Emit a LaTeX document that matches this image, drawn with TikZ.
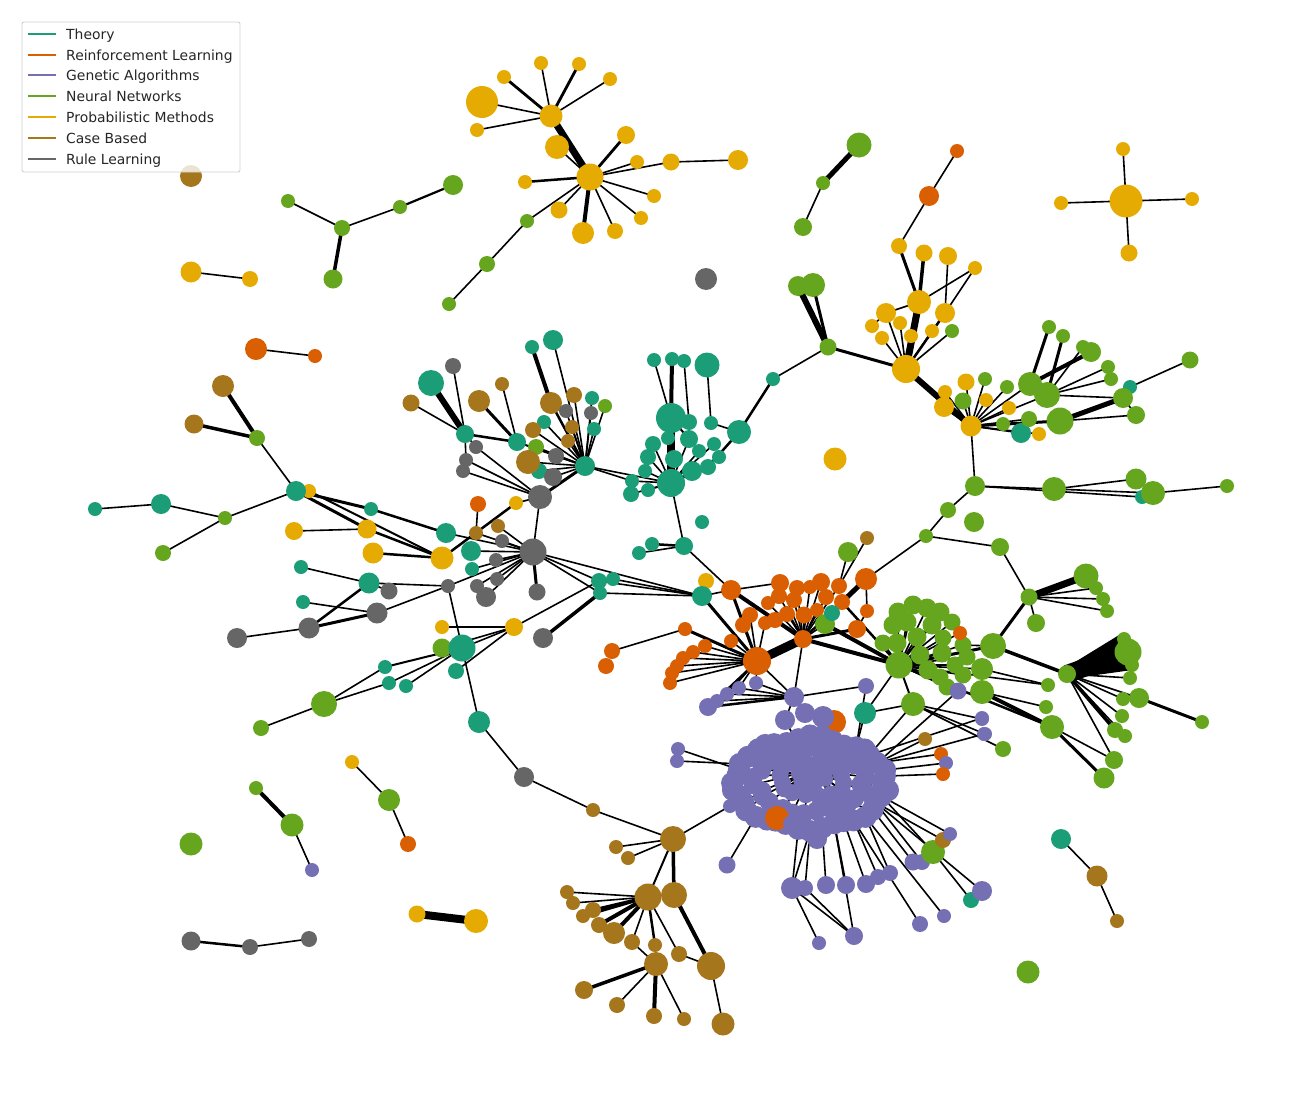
\documentclass[tikz,border=0pt]{standalone}
\usepackage{fontspec}
\setmainfont{DejaVu Sans}
\definecolor{cT}{HTML}{1B9E77}
\definecolor{cR}{HTML}{D95F02}
\definecolor{cG}{HTML}{7570B3}
\definecolor{cN}{HTML}{66A61E}
\definecolor{cP}{HTML}{E6AB02}
\definecolor{cC}{HTML}{A6761D}
\definecolor{cL}{HTML}{666666}
\pgfdeclarelayer{bg}
\pgfsetlayers{bg,main}
\tikzset{nd/.style={circle,inner sep=0pt,draw=none}}
\begin{document}
\begin{tikzpicture}[x=1pt,y=-1pt]
\useasboundingbox (0,0) rectangle (1300,1100);
\begin{pgfonlayer}{bg}
\fill[white] (0,0) rectangle (1300,1100);
\end{pgfonlayer}
% ---------- nodes ----------
\foreach \n/\x/\y/\c/\s in {
ya/551/116/cP/23, yb/482/102/cP/32, y1/504/77/cP/14, y2/541/63/cP/14, y3/579/64/cP/14, y4/610/79/cP/14, y5/477/130/cP/14, y6/557/147/cP/24, yh/590/177/cP/27, y7/626/135/cP/18, y8/637/162/cP/14, y9/671/162/cP/17, y10/738/160/cP/20, y11/525/182/cP/14, y12/654/196/cP/14, y13/641/218/cP/14, y14/615/231/cP/16, y15/583/233/cP/22, y16/559/210/cP/17, g1/527/221/cN/14, g2/487/264/cN/16, g3/449/304/cN/14,
g4/288/201/cN/14, g5/342/228/cN/16, g6/400/207/cN/14, g7/453/185/cN/20, g8/333/279/cN/19, c1/191/176/cC/22, y17/191/272/cP/21, y18/250/279/cP/16, r1/256/349/cR/22, r2/315/356/cR/14, c2/223/386/cC/22, c3/194/424/cC/19, g9/257/438/cN/16, y19/309/491/cP/14, t1/296/491/cT/20, t2/95/509/cT/14, t3/161/504/cT/20, g10/225/518/cN/14, g11/163/553/cN/16, l1/706/279/cL/22, y20/835/459/cP/23, g12/191/844/cN/23, g13/1028/972/cN/23, t4/1061/839/cT/20, c4/1097/876/cC/21, c5/1117/921/cC/14, g14/859/145/cN/25, g15/823/183/cN/14, g16/803/227/cN/18, y21/1126/201/cP/33, y22/1123/149/cP/14, y23/1061/203/cP/14, y24/1192/199/cP/14, y25/1129/253/cP/17, g17/256/788/cN/14, g18/292/825/cN/23, v1/312/870/cG/14, y26/352/762/cP/14, g19/389/800/cN/22, r3/408/844/cR/16, l2/191/941/cL/19, l3/250/947/cL/16, l4/309/939/cL/16, y27/417/914/cP/17, y28/476/921/cP/24}
{\node[nd,fill=\c,minimum size=\s pt] (\n) at (\x,\y) {};}
\foreach \n/\x/\y/\c/\s in {
r4/957/151/cR/14, r5/929/196/cR/20, y30/899/246/cP/16, y31/924/253/cP/17, y32/948/256/cP/18, y33/975/268/cP/14, y34/919/302/cP/24, y35/886/313/cP/20, y36/945/313/cP/20, y37/872/326/cP/14, y38/900/323/cP/14, y39/882/338/cP/14, y40/911/336/cP/14, y41/932/331/cP/14, g20/952/331/cN/14, yh2/906/369/cP/28, g22/798/286/cN/20, g23/813/285/cN/24, g21/828/347/cN/17, t5/773/379/cT/14,
y42/945/392/cP/14, y43/944/407/cP/20, y44/966/382/cP/17, g24/963/401/cN/17, g25/985/379/cN/14, y45/986/400/cP/14, y46/1009/408/cP/14, g26/1007/387/cN/14, g27/1003/424/cN/14, t6/1021/433/cT/20, y47/1039/434/cP/14, g28/1030/384/cN/24, g29/1047/395/cN/26, g30/1029/419/cN/16, g31/1060/421/cN/27, g32/1049/327/cN/14, g33/1063/336/cN/14, g34/1083/347/cN/14, g35/1091/352/cN/20, g36/1108/367/cN/14, g37/1111/379/cN/14, t7/1130/387/cT/14, g38/1123/398/cN/20, g39/1136/415/cN/18, g40/1190/360/cN/17, yc/971/426/cP/21,
g41/975/486/cN/20, g42/1054/489/cN/24, t8/1142/497/cT/14, g44/1136/479/cN/21, g45/1153/493/cN/24, g46/1227/486/cN/14, g47/948/510/cN/16, g48/974/522/cN/20, g49/926/536/cN/14, g50/1000/547/cN/18}
{\node[nd,fill=\c,minimum size=\s pt] (\n) at (\x,\y) {};}
\foreach \n/\x/\y/\c/\s in {
g51/1029/597/cN/17, g52/1086/576/cN/25, g53/1096/588/cN/14, g54/1103/599/cN/14, g55/1107/611/cN/14, g56/1036/623/cN/18, g57/993/646/cN/26, g59/1124/639/cN/14, g60/1128/652/cN/27, g61/1132/665/cN/14, g62/1130/678/cN/14, g63/1123/699/cN/14, g64/1139/698/cN/20, g65/1122/716/cN/14, g66/1115/730/cN/16, g67/1125/736/cN/14, g68/1202/722/cN/14, g69/1114/760/cN/18, g70/1104/778/cN/21, g71/1048/685/cN/14, g72/1046/707/cN/14, g73/1052/727/cN/24, g74/1003/749/cN/16, g58/1067/674/cN/18,
gb1/898/612/cN/19, gb2/913/605/cN/19, gb3/927/608/cN/19, gb4/940/612/cN/19, gb5/952/622/cN/17, gb6/893/625/cN/19, gb7/907/622/cN/19, gb8/932/625/cN/19, gb9/897/643/cN/19, gb10/917/637/cN/19, gb11/943/638/cN/17, gb12/963/645/cN/17, gb13/942/653/cN/19, gb14/920/655/cN/19, gb15/883/643/cN/17, gb16/967/657/cN/17, gb17/928/670/cN/19, gb18/955/665/cN/17, gb19/940/677/cN/17, gb20/963/675/cN/17, gb21/947/687/cN/17,
r6/960/633/cR/14, gh/899/665/cN/27, g76/982/669/cN/22, g77/982/692/cN/24, v4/958/691/cG/17, g75/913/704/cN/24, v2/982/719/cG/14, v3/985/734/cG/14, c6/925/739/cC/14, r7/941/754/cR/14, v5/946/763/cG/14, r8/943/774/cR/14}
{\node[nd,fill=\c,minimum size=\s pt] (\n) at (\x,\y) {};}
\foreach \n/\x/\y/\c/\s in {
gn1/848/552/cN/20, cn1/867/538/cC/14,
ro1/731/590/cR/20, ro2/780/583/cR/18, ro3/797/588/cR/16, ro4/810/587/cR/14, ro5/821/582/cR/18, ro6/839/586/cR/16, ro7/779/596/cR/16, ro8/794/600/cR/16, ro9/768/603/cR/14, ro10/826/597/cR/16, ro11/842/602/cR/16, ro12/817/610/cR/14, ro13/804/615/cR/17, ro14/787/614/cR/16, ro15/750/615/cR/16, ro16/775/620/cR/16, ro17/765/623/cR/14, ro18/743/625/cR/16, gq/825/624/cN/20, tq/832/613/cT/16, ro19/867/611/cR/14, ro20/857/629/cR/18, ro21/685/629/cR/14, ro22/731/641/cR/14, ro23/705/646/cR/14, ro24/693/652/cR/14, ro25/683/658/cR/14, ro26/677/666/cR/14, ro27/672/673/cR/14, ro28/670/683/cR/14, ro29/612/651/cR/16, ro30/606/666/cR/16, rm/803/639/cR/18, rh/757/661/cR/28, rbig/866/579/cR/22,
yp/706/581/cP/16, tp/702/596/cT/20, t9/684/546/cT/18, t10/652/544/cT/14, t11/639/553/cT/14, t12/702/522/cT/14,
pv1/756/683/cG/14, pv2/739/688/cG/14, pv3/727/694/cG/14, pv4/717/701/cG/14, pv5/708/707/cG/18, pvt/794/697/cG/20, pv6/866/686/cG/16, tq2/865/713/cT/22}
{\node[nd,fill=\c,minimum size=\s pt] (\n) at (\x,\y) {};}
\foreach \n/\x/\y/\c/\s in {
ta1/654/360/cT/14, ta2/672/359/cT/14, ta3/684/361/cT/14, ta4/707/365/cT/25, ta5/689/422/cT/16, ta6/711/423/cT/14, ta7/739/432/cT/24, tb/671/418/cT/30, ta8/653/444/cT/16, ta9/668/438/cT/14, ta10/689/439/cT/18, ta11/714/444/cT/14, ta12/648/457/cT/16, ta13/674/459/cT/18, ta14/699/451/cT/14, ta15/719/457/cT/14, ta16/645/471/cT/14, ta17/692/471/cT/20, ta18/708/467/cT/16, ta19/632/481/cT/14, ta20/648/490/cT/14, tc/671/483/cT/28, ta21/631/494/cT/16,
lt1/532/347/cT/14, lt2/553/340/cT/20, ll1/453/366/cL/16, lt3/431/383/cT/26, lc1/502/384/cC/14, lc2/411/403/cC/17, lc3/479/401/cC/22, lc4/551/403/cC/22, lc5/574/395/cC/16, lt4/592/398/cT/14, lg1/605/406/cN/14, ll2/566/411/cL/14, ll3/591/413/cL/14, lt5/465/434/cT/18, lt6/544/422/cT/14, lc6/572/427/cC/14, lt7/594/429/cT/14, lc7/533/430/cC/16, lc8/568/441/cC/14, lt8/517/442/cT/18, lg2/536/447/cN/16, ll4/476/447/cL/14, ll5/556/456/cL/16, lt9/539/471/cT/16, lc9/528/462/cC/24, ll6/466/460/cL/14, ll7/463/471/cL/14, ll8/553/477/cL/18, th/585/466/cT/20, lh/540/497/cL/24, lr1/478/504/cR/16, ly1/516/503/cP/14}
{\node[nd,fill=\c,minimum size=\s pt] (\n) at (\x,\y) {};}
\foreach \n/\x/\y/\c/\s in {
qt2/371/509/cT/14, qy1/294/531/cP/18, qy3/367/529/cP/19, qy4/373/553/cP/21, qt3/446/533/cT/20, qy2/442/558/cP/23, qc1/476/533/cC/14, qc2/498/526/cC/14, qt4/471/551/cT/20, ql2/502/541/cL/14, ql3/496/560/cL/14, qt5/472/569/cT/14, ql4/497/579/cL/14, ql5/448/586/cL/14, ql6/477/586/cL/14, ql7/486/597/cL/20, ql1/533/552/cL/27, ql8/537/592/cL/17, t13/599/581/cT/16, t14/613/579/cT/14, t15/600/593/cT/14, qt6/301/567/cT/14, qt7/369/583/cT/21, ql9/389/591/cL/17, qt8/303/602/cT/14, ql10/377/613/cL/21, ql11/309/628/cL/21, ql12/237/638/cL/20, qy5/442/627/cP/14, qy6/514/627/cP/18, ql13/543/638/cL/20, qg1/442/648/cN/19, qt9/462/648/cT/27, qt10/456/671/cT/16, qt11/385/667/cT/14, qt12/389/683/cT/14, qt13/406/686/cT/14, qg2/324/704/cN/26, qg3/261/728/cN/16, qt14/479/722/cT/22, ql14/524/777/cL/20,
cb1/593/810/cC/14, ch/673/839/cC/26, cv1/730/806/cG/14, cb2/616/847/cC/14, cb3/628/858/cC/14, cv2/727/865/cG/17, cb4/567/892/cC/14, cb5/573/903/cC/14, cb6/593/910/cC/16, cb7/583/916/cC/14, cb8/599/925/cC/16, cb9/614/933/cC/22, cb10/632/942/cC/16, cb11/655/945/cC/14, cb12/679/954/cC/16, cc1/648/897/cC/27, cc2/674/895/cC/26, cc3/656/964/cC/24, cc4/711/966/cC/28, cb13/584/990/cC/18, cb14/617/1005/cC/16, cb15/654/1016/cC/16, cb16/684/1019/cC/14, cb17/723/1024/cC/23,
pw1/678/749/cG/14, pw2/677/761/cG/14, pb1/792/888/cG/22, pb2/805/888/cG/16, pb3/826/885/cG/18, pb4/846/885/cG/18, pb5/866/884/cG/18, pb6/878/877/cG/16, pb7/890/873/cG/16, pb8/913/862/cG/17, pb9/922/862/cG/16, gbig/933/852/cN/24, cb18/943/840/cC/16, pb10/950/834/cG/14, tb2/971/900/cT/16, pb11/982/891/cG/20, pb12/944/916/cG/14, pb13/920/924/cG/16, pb14/854/936/cG/18, pb15/819/943/cG/14, pr1/982/718/cG/14, pr2/984/734/cG/14,
br/834/722/cR/24, bt1/785/720/cG/20, bt2/805/713/cG/20, bt3/823/717/cG/22}
{\node[nd,fill=\c,minimum size=\s pt] (\n) at (\x,\y) {};}
% purple blob
\foreach \i in {1,...,40}
{\node[nd,fill=cG,minimum size=22pt] (bo\i) at ({810+(76+3*sin(\i*97))*cos(\i*9)},{783+(45+3*cos(\i*71))*sin(\i*9)}) {};}
\node[nd,fill=cG,minimum size=20pt] (bb) at (817,839) {};
\foreach \i in {1,...,28}
{\node[nd,fill=cG,minimum size=19pt] (bi\i) at ({810+(55+4*sin(\i*113))*cos(\i*360/28+6)},{781+(31+3*sin(\i*57))*sin(\i*360/28+6)}) {};}
\foreach \i in {1,...,16}
{\node[nd,fill=cG,minimum size=17pt] (bc\i) at ({812+(33+3*sin(\i*89))*cos(\i*22.5+11)},{779+(18+2*cos(\i*43))*sin(\i*22.5+11)}) {};}
\foreach \i in {1,...,6}
{\node[nd,fill=cG,minimum size=16pt] (bd\i) at ({812+14*cos(\i*60+20)},{776+8*sin(\i*60+20)}) {};}
\node[nd,fill=cG,minimum size=24pt] (bh) at (812,770) {};
\node[nd,fill=cR,minimum size=24pt] (borg) at (777,818) {};
\node[nd,fill=cG,minimum size=18pt] (bo9b) at (792,824) {};
% ---------- edges ----------
\begin{pgfonlayer}{bg}
\foreach \a/\b/\w in {
ya/yb/1.6, ya/y1/2.8, ya/y2/1.6, ya/y3/2.8, ya/y4/1.6, ya/y5/1.6, ya/yh/7, y6/yh/1.6, yh/y7/2.8, yh/y8/1.6, yh/y9/1.6, y9/y10/1.6, yh/y11/2.5, yh/y12/1.6, yh/y13/1.6, yh/y14/1.6, yh/y15/4, yh/y16/1.6, yh/g1/1.6, g1/g2/1.6, g2/g3/1.6,
g4/g5/1.6, g5/g6/1.6, g6/g7/2.2, g5/g8/3.5, y17/y18/1.6, r1/r2/1.6, c2/g9/4, c3/g9/3.5, g9/t1/1.6, t2/t3/1.6, t3/g10/1.6, g10/t1/1.6, g10/g11/1.6, t4/c4/1.6, c4/c5/1.6, g14/g15/5, g15/g16/1.6, y21/y22/1.6, y21/y23/1.6, y21/y24/1.6, y21/y25/1.6, g17/g18/4, g18/v1/1.6, y26/g19/1.6, g19/r3/1.6, l2/l3/2.5, l3/l4/1.6, y27/y28/8,
r4/r5/1.6, r5/y30/1.6, y30/y34/3, y31/y34/3.5, y32/y36/1.6, y33/y34/1.6, y33/y36/1.6, y35/y34/1.6, y34/yh2/7, y35/yh2/1.6, y37/y35/1.6, y38/yh2/1.6, y39/yh2/1.6, y40/yh2/1.6, y41/yh2/1.6, g20/yh2/1.6, y36/yh2/2.5, g21/yh2/3, g21/g22/6, g21/g23/3, t5/g21/1.6, yh2/yc/6,
yc/y42/1.6, yc/y43/3, yc/y44/1.6, yc/g24/1.6, yc/g25/1.6, yc/y45/1.6, yc/y46/1.6, yc/g26/1.6, yc/g27/1.6, yc/t6/1.6, yc/y47/1.6, yc/g28/1.6, yc/g29/1.6, yc/g30/1.6, yc/g31/3, g28/g32/3, g29/g33/3, g28/g35/4, g29/g34/1.6, g29/g36/1.6, g29/g37/1.6, g31/g38/5, g38/t7/1.6, t7/g40/1.6, g38/g39/1.6, g31/g39/1.6, g29/g38/1.6, yc/g41/1.6, g41/g42/1.6, g41/t8/1.6, g42/g44/1.6, g42/g45/1.6, g45/g46/1.6, g41/g47/1.6, g47/g49/1.6, g49/g50/1.6, g50/g51/1.6, rbig/g49/1.6}
{\draw[line width=\w pt] (\a.center) -- (\b.center);}
\foreach \a/\b/\w in {
g51/g52/7, g51/g53/1.6, g51/g54/1.6, g51/g55/1.6, g51/g56/1.6, g51/g57/3, g57/g58/3.5, g58/g59/12, g58/g60/18, g58/g61/10, g58/g62/1.6, g58/g63/1.6, g58/g64/1.6, g58/g65/1.6, g58/g66/3.5, g58/g67/1.6, g64/g68/3, g58/g69/1.6, g73/g69/1.6, g73/g70/3, g77/g73/4, g77/g72/1.6, g76/g71/1.6, gh/g57/3, gh/g71/1.6, g75/v2/1.6, g75/v3/1.6, g75/g74/1.6, gh/g73/2.5, gh/g75/2,
gh/gb1/1.6, gh/gb2/1.6, gh/gb3/1.6, gh/gb4/1.6, gh/gb5/1.6, gh/gb6/1.6, gh/gb7/1.6, gh/gb8/1.6, gh/gb9/1.6, gh/gb10/1.6, gh/gb11/1.6, gh/gb12/1.6, gh/gb13/1.6, gh/gb14/1.6, gh/gb15/1.6, gh/gb16/1.6, gh/gb17/1.6, gh/gb18/1.6, gh/gb19/1.6, gh/gb20/1.6, gh/gb21/1.6, gh/r6/1.6, gh/g76/1.6, gh/v4/1.6, gb12/g57/1.6,
rh/ro1/3, rh/rm/9, rh/ro21/3, rh/ro22/1.6, rh/ro23/1.6, rh/ro24/1.6, rh/ro25/1.6, rh/ro26/1.6, rh/ro27/1.6, rh/ro28/1.6, rh/ro15/1.6, rh/ro18/1.6, rh/ro17/1.6, rm/ro2/1.6, rm/ro3/1.6, rm/ro4/1.6, rm/ro5/1.6, rm/ro6/1.6, rm/ro7/1.6, rm/ro8/1.6, rm/ro9/1.6, rm/ro10/1.6, rm/ro12/1.6, rm/ro13/1.6, rm/ro14/1.6, rm/ro16/1.6, rm/gq/1.6, rm/rbig/2.5, rbig/ro11/5, rbig/ro19/1.6, ro19/ro20/1.6, rm/ro20/3, rm/gh/4, gq/gh/4, ro11/gh/2.5, ro21/ro29/1.6, ro1/ro2/1.6, ro1/rm/4, t9/ro1/1.6, t9/t10/2.5, t9/t11/1.6, tc/t9/1.6, tp/rh/3, tp/ro1/1.6, ql1/tp/1.6, t13/tp/1.6, t14/tp/1.6, t15/tp/1.6, gn1/ro6/1.6, cn1/ro6/1.6, rh/pvt/1.6, rm/pvt/1.6, pvt/pv6/1.6, tq2/gh/1.6, tq2/g75/1.6, rh/pv1/1.6, rh/pv2/1.6, rh/pv3/1.6, rh/pv4/1.6, rh/pv5/1.6, pvt/pv1/1.6, pvt/pv2/1.6, pvt/pv3/1.6, pvt/pv4/1.6, pvt/pv5/2.5}
{\draw[line width=\w pt] (\a.center) -- (\b.center);}
\foreach \a/\b/\w in {
tb/tc/8, ta1/tb/1.6, ta2/tb/4, ta3/ta5/1.6, ta4/ta6/1.6, ta7/t5/2.5, ta7/ta6/1.6, ta7/ta18/2.5, tc/ta8/1.6, tc/ta9/1.6, tc/ta10/1.6, tc/ta11/1.6, tc/ta12/1.6, tc/ta13/4, tc/ta14/1.6, tc/ta15/1.6, tc/ta16/1.6, tc/ta17/1.6, tc/ta18/1.6, tc/ta19/1.6, tc/ta20/1.6, tc/ta21/1.6, tc/th/1.6, ta19/th/1.6, tb/ta5/2, tb/ta10/2,
lt3/lt5/6, ll1/lt5/1.6, lc2/lt5/1.6, lt5/lt8/2.5, lc3/lt8/3, lc1/lt8/1.6, lt1/lc4/4, lt2/th/1.6, lc4/th/2.5, th/lc5/1.6, th/lt4/1.6, th/lg1/1.6, th/ll2/1.6, th/ll3/1.6, th/lt6/1.6, th/lc6/1.6, th/lt7/1.6, th/lc7/1.6, th/lc8/1.6, th/lg2/1.6, th/ll5/1.6, th/lc9/1.6, th/lt9/1.6, th/ll8/1.6, th/lt8/2, th/lh/3, lt5/ll4/1.6, ll4/lh/1.6, ll6/lh/1.6, ll7/lh/1.6, lt5/ll6/1.6, lh/ql1/1.6, ly1/lh/1.6, lr1/qc1/1.6,
t1/qt2/3, qt2/qt3/2.5, t1/qy3/3, y19/qy2/2, qy1/qy3/1.6, qy3/qy2/2.5, qy4/qy2/2.5, qt3/ql1/1.6, qy2/ly1/2.5, qc1/ql1/1.6, qc2/ql1/1.6, ql2/ql1/1.6, qt4/ql1/1.6, ql3/ql1/1.6, qt5/ql1/1.6, ql4/ql1/1.6, ql6/ql1/1.6, ql7/ql1/1.6, ql5/ql1/1.6, ql8/ql1/3, ql1/t13/1.6, ql1/t15/1.6, qt7/qt6/1.6, qt7/ql5/1.6, qt7/ql9/1.6, qt7/ql11/2.5, ql10/ql11/3, ql10/qt8/1.6, ql10/ql5/1.6, ql11/ql12/1.6, ql5/qt14/1.6, qy5/qy6/1.6, qy6/qt9/1.6, qy6/qg1/1.6, qy6/t13/1.6, ql13/t15/3.5, qt9/qt11/2, qt9/qt12/1.6, qt9/qt13/1.6, qy6/qt10/1.6, qg2/qt11/1.6, qg2/qt12/1.6, qg2/qg3/1.6, qt14/ql14/1.6, ql14/cb1/1.6, cb1/ch/1.6,
ch/cv1/1.6, ch/cb2/1.6, ch/cb3/1.6, ch/cc1/2, ch/cc2/3.5, cc1/cb4/1.6, cc1/cb5/1.6, cc1/cb6/3, cc1/cb7/3, cc1/cb8/4, cc1/cb9/4, cc1/cb10/1.6, cc1/cb11/2.5, cc1/cb12/1.6, cb10/cc3/1.6, cb12/cc4/1.6, cc2/cc4/4, cc4/cb17/1.6, cc3/cb13/3.5, cc3/cb14/1.6, cc3/cb15/4, cc3/cb16/1.6,
cv1/bo17/1.6, pw1/bo22/1.6, pw2/bo23/1.6, cv2/bo15/1.6, pb1/bo11/1.6, pb1/bo10/1.6, pb2/bo10/1.6, pb3/bo9/1.6, pb4/bo8/2, pb5/bo7/1.6, pb6/bo6/1.6, pb7/bo5/1.6, pb8/bo4/1.6, pb9/bo3/1.6, pb10/bo2/1.6, gbig/bo2/1.6, cb18/bo3/1.6, pb11/bo3/1.6, pb12/bo5/1.6, pb13/bo6/1.6, pb14/pb1/1.6, pb14/pb2/1.6, pb15/pb1/1.6, pb14/bo8/1.6, tb2/gbig/1.6, c6/bo37/1.6, r7/bo37/1.6, v5/bo38/1.6, r8/bo39/1.6, pr1/bo36/1.6, pr2/bo37/1.6, tq2/bo34/1.6, pv6/bo34/1.6, pvt/bt2/2, pvt/bt1/1.6, g75/bo36/1.6, v4/bo37/1.6, bt3/bh/1.6, bt1/bh/1.6}
{\draw[line width=\w pt] (\a.center) -- (\b.center);}
\foreach \i in {1,...,28}{\draw[line width=1.6pt] (bh.center) -- (bi\i.center);}
\foreach \i in {1,...,16}{\draw[line width=1.6pt] (bh.center) -- (bc\i.center);}
\foreach \i [evaluate=\i as \j using {int(mod(round(\i*40/28)-1,40)+1)}] in {1,...,28}
{\draw[line width=1.6pt] (bi\i.center) -- (bo\j.center);}
\end{pgfonlayer}
% ---------- legend ----------
\fill[white,opacity=0.8,rounded corners=2pt] (22,22) rectangle (240,172);
\draw[black!18,line width=0.9pt,rounded corners=2pt] (22,22) rectangle (240,172);
\foreach \t/\c/\yy in {Theory/cT/34, Reinforcement Learning/cR/55, Genetic Algorithms/cG/75, Neural Networks/cN/96, Probabilistic Methods/cP/117, Case Based/cC/138, Rule Learning/cL/159}
{\draw[\c,line width=2pt] (28,\yy) -- (56,\yy);
 \node[anchor=base west,inner sep=0pt,font=\fontsize{13.9}{16}\selectfont,text=black!85] (leg\yy) at (66,\yy+5) {\t};}
\end{tikzpicture}
\end{document}
